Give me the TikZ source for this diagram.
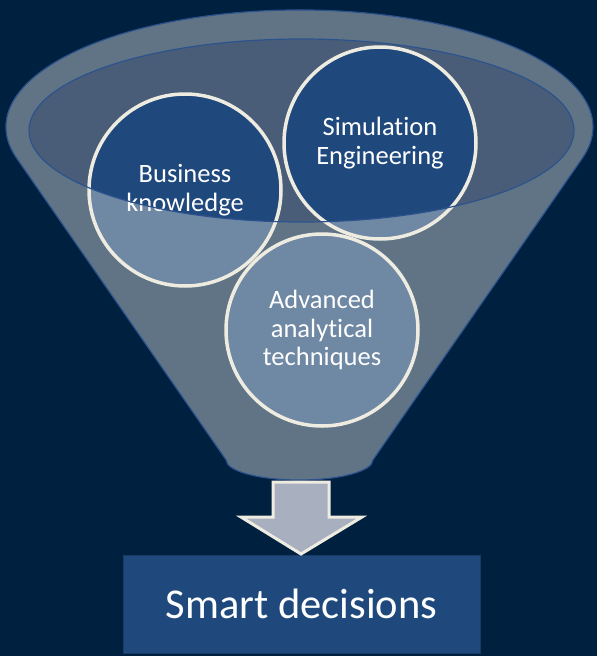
\documentclass[tikz,border=0pt]{standalone}
\usepackage{fontspec}
\setmainfont{Carlito}[Ligatures=NoCommon]
\usepackage{xcolor}
\definecolor{navybg}{RGB}{0,32,64}
\definecolor{rimgrey}{RGB}{192,200,204}
\definecolor{mouth}{RGB}{74,93,120}
\definecolor{darkblue}{RGB}{31,73,125}
\definecolor{cream}{RGB}{238,236,225}
\definecolor{edgeblue}{RGB}{44,82,140}
\definecolor{arrowgrey}{RGB}{168,175,191}

\begin{document}
\begin{tikzpicture}[x=1pt, y=-1pt,
    bubble/.style={circle, draw=cream, line width=3.5pt, text=white,
        minimum size=192pt, inner sep=0pt, align=center, font=\fontsize{26.5}{28.5}\selectfont},
    funnel/.style={fill=rimgrey, fill opacity=0.5, even odd rule},
    decision/.style={rectangle, draw=darkblue!80!black, fill=darkblue, text=white,
        minimum width=357pt, minimum height=98pt, font=\fontsize{42.5}{50}\selectfont}]
    \fill[navybg] (0,0) rectangle (597,656);
    \useasboundingbox (0,0) rectangle (597,656);
    \coordinate (bizc) at (185,190);
    \coordinate (simc) at (380,143);
    \coordinate (advc) at (322,330);
    % inside of the funnel mouth
    \fill[mouth] (301.5,130.5) ellipse [x radius=272.5, y radius=91.5];
    \fill[darkblue] (bizc) circle (96) (simc) circle (96) (advc) circle (96);
    % funnel front, mouth left open
    \def\funnelpath{([shift={(299.5,127)}]164.5:293.5 and 117)
        arc[start angle=164.5, end angle=375.5, x radius=293.5, y radius=117]
        -- (372.9,460) arc[start angle=0, end angle=180, x radius=73.4, y radius=20] -- cycle
        (301.5,130.5) ellipse [x radius=272.5, y radius=91.5]}
    \path[funnel] \funnelpath;
    \node[bubble] (biz) at (bizc) {Business\\knowledge};
    \node[bubble] (sim) at (simc) {Simulation\\Engineering};
    \node[bubble] (adv) at (advc) {Advanced\\analytical\\techniques};
    \draw[edgeblue, line width=1.2pt] \funnelpath;
    \coordinate (spout) at (301,482);
    \node[decision] (smart) at (301.5,604) {Smart decisions};
    \draw[cream, line width=3pt, fill=arrowgrey, shift={(spout)}]
        (-28,0) -- (28,0) -- (28,35) -- (61,35) -- (0,72) -- (-60,35) -- (-28,35) -- cycle;
\end{tikzpicture}
\end{document}
